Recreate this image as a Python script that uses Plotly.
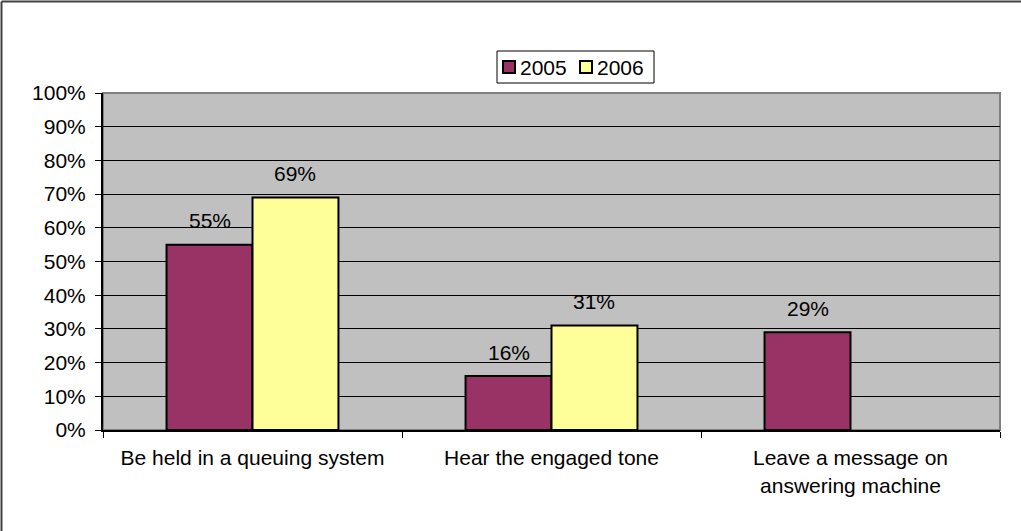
import plotly.graph_objects as go

# Survey answers: what callers prefer when the line is busy
categories = [
    "Be held in a queuing system",
    "Hear the engaged tone",
    "Leave a message on<br>answering machine",
]
years = ["2005", "2006"]
share_2005 = [55, 16, 29]
share_2006 = [69, 31, None]
y_ticks = list(range(0, 101, 10))
y_tick_text = [f"{v}%" for v in y_ticks]
colors = ["#993366", "#FFFF99"]

FONT = "Liberation Sans, Arial, sans-serif"
FS = 21
W, H = 1021, 531
ML, MR, MT, MB = 103, 21, 93, 101
PW, PH = W - ML - MR, H - MT - MB


def px_x(px):
    return (px - ML) / PW


def px_y(py):
    return (MT + PH - py) / PH


fig = go.Figure()
series = [(years[0], share_2005, colors[0]), (years[1], share_2006, colors[1])]
for name, vals, color in series:
    fig.add_trace(go.Bar(
        name=name,
        x=categories,
        y=vals,
        marker=dict(color=color, line=dict(color="black", width=2)),
        hoverinfo="skip",
        showlegend=False,
    ))

# value labels above each bar
bar_px = PW / 3 * (1 - 0.425) / 2
for i, (name, vals, _) in enumerate(series):
    shift = (i - 0.5) * bar_px
    for cat, v in zip(categories, vals):
        if v is None:
            continue
        fig.add_annotation(
            x=cat, y=v, text=f"{v}%", showarrow=False,
            xshift=shift, yshift=24, yanchor="middle",
            font=dict(family=FONT, size=FS, color="black"),
        )

# gray frame of the plotting area
fig.add_shape(type="rect", xref="paper", yref="paper", x0=0, x1=1, y0=0, y1=1,
              line=dict(color="#808080", width=2), layer="below")
# chart border along the left and top edges
border = dict(color="#404040", width=2)
fig.add_shape(type="line", xref="paper", yref="paper",
              x0=px_x(1.5), x1=px_x(1.5), y0=px_y(H + 2), y1=px_y(1.5), line=border)
fig.add_shape(type="line", xref="paper", yref="paper",
              x0=px_x(1.5), x1=px_x(W + 2), y0=px_y(1.5), y1=px_y(1.5), line=border)

# legend box with swatches
fig.add_shape(type="rect", xref="paper", yref="paper",
              x0=px_x(497), x1=px_x(654), y0=px_y(83), y1=px_y(51),
              line=dict(color="black", width=1), fillcolor="white")
swatch_left = [503, 580]
for name, color, sx in zip(years, colors, swatch_left):
    fig.add_shape(type="rect", xref="paper", yref="paper",
                  x0=px_x(sx), x1=px_x(sx + 12), y0=px_y(73), y1=px_y(61),
                  line=dict(color="black", width=2), fillcolor=color)
    fig.add_annotation(
        xref="paper", yref="paper", x=px_x(sx + 15), y=px_y(67),
        xanchor="left", yanchor="middle", text=name, showarrow=False,
        font=dict(family=FONT, size=FS, color="black"),
    )

fig.update_layout(
    width=W, height=H,
    margin=dict(l=ML, r=MR, t=MT, b=MB, pad=0),
    paper_bgcolor="white",
    plot_bgcolor="#C0C0C0",
    barmode="group",
    bargap=0.425,
    bargroupgap=0,
    font=dict(family=FONT, size=FS, color="black"),
    showlegend=False,
)

fig.update_xaxes(
    type="category",
    showline=True, linecolor="black", linewidth=2,
    ticks="outside", tickson="boundaries", ticklen=6, tickcolor="black",
    showgrid=False,
    ticklabelstandoff=8,
    tickfont=dict(family=FONT, size=FS, color="black"),
)
fig.update_yaxes(
    range=[0, 100],
    tickvals=y_ticks,
    ticktext=y_tick_text,
    showline=True, linecolor="black", linewidth=2,
    ticks="outside", ticklen=6, tickcolor="black",
    showgrid=True, gridcolor="black", gridwidth=1,
    zeroline=False,
    ticklabelstandoff=5,
    tickfont=dict(family=FONT, size=FS, color="black"),
)

fig.write_html("out.html")
